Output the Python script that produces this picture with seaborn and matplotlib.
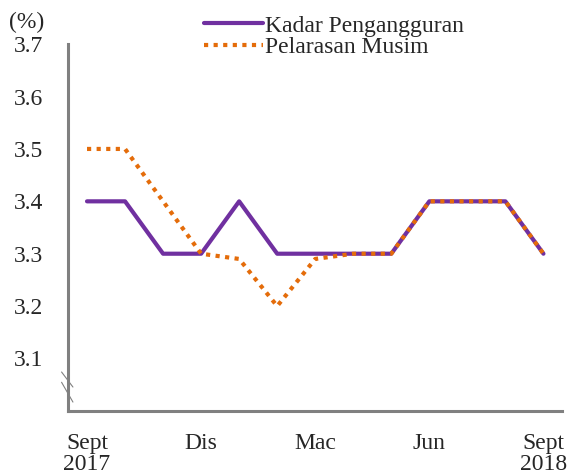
import matplotlib
matplotlib.use('Agg')
import matplotlib.pyplot as plt
import pandas as pd
import seaborn as sns

# data
months = ['Sept\n2017', 'Okt', 'Nov', 'Dis', 'Jan', 'Feb', 'Mac',
          'Apr', 'Mei', 'Jun', 'Jul', 'Ogo', 'Sept\n2018']
kadar = [3.4, 3.4, 3.3, 3.3, 3.4, 3.3, 3.3, 3.3, 3.3, 3.4, 3.4, 3.4, 3.3]
musim = [3.5, 3.5, 3.4, 3.3, 3.29, 3.2, 3.29, 3.3, 3.3, 3.4, 3.4, 3.4, 3.3]
shown = ['Sept\n2017', 'Dis', 'Mac', 'Jun', 'Sept\n2018']

df = pd.DataFrame({
    'pos': list(range(len(months))) * 2,
    'nilai': kadar + musim,
    'siri': ['Kadar Pengangguran'] * len(months) + ['Pelarasan Musim'] * len(months),
})

sns.set_style('white')
plt.rcParams['font.family'] = ['Liberation Serif', 'DejaVu Serif']
fs = 17

fig = plt.figure(figsize=(5.69, 4.75), dpi=100)
ax = fig.add_axes([0.1195, 0.135, 0.869, 0.772])

sns.lineplot(data=df, x='pos', y='nilai', hue='siri', style='siri',
             palette=['#7030A0', '#E46C0A'],
             dashes=[(None, None), (1, 1.3)], linewidth=3, ax=ax)
for ln in ax.get_lines():
    if ln.get_linestyle() != '-':
        ln.set_dash_capstyle('butt')

# axes
ax.set_xlim(-0.5, len(months) - 0.5)
ax.set_ylim(3.0, 3.7)
ax.set_yticks([3.1, 3.2, 3.3, 3.4, 3.5, 3.6, 3.7])
ax.set_yticklabels(['3.1', '3.2', '3.3', '3.4', '3.5', '3.6', '3.7'], fontsize=fs)
ax.set_xticks([months.index(m) for m in shown])
ax.set_xticklabels(shown, fontsize=fs, linespacing=1.0)
ax.set_xticks([i - 0.5 for i in range(len(months) + 1)], minor=True)
ax.tick_params(axis='x', which='major', length=0, pad=16)
ax.tick_params(axis='x', which='minor', length=5, width=2.2, color='#808080')
ax.tick_params(axis='y', length=5, width=2.2, color='#808080', pad=13)
ax.set_xlabel('')
ax.set_ylabel('')
for s in ['top', 'right']:
    ax.spines[s].set_visible(False)
for s in ['left', 'bottom']:
    ax.spines[s].set_color('#808080')
    ax.spines[s].set_linewidth(2.2)

# axis break marks
for y_top, y_bot in [(0.106, 0.065), (0.078, 0.024)]:
    ax.plot([-0.013, 0.01], [y_top, y_bot], transform=ax.transAxes,
            color='#808080', lw=0.8, clip_on=False)

fig.text(0.016, 0.94, '(%)', fontsize=fs)

ax.legend(loc='upper left', bbox_to_anchor=(0.255, 1.105), frameon=False,
          fontsize=fs, handlelength=2.5, handletextpad=0.1, labelspacing=0.0,
          borderaxespad=0)

fig.savefig('out.png', dpi=100)
